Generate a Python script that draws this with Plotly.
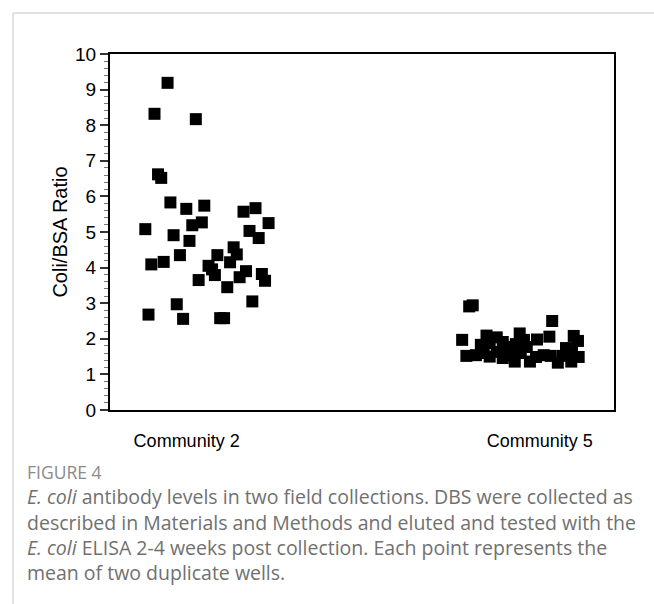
import plotly.graph_objects as go

# ---- data ----
categories = ["Community 2", "Community 5"]
cat_pos = [1, 2]

c2_values = [9.19, 8.32, 8.17, 6.62, 6.52, 5.83, 5.65, 5.74, 5.08, 5.19,
             5.27, 4.91, 4.75, 5.57, 5.67, 5.25, 5.03, 4.83, 4.57, 4.09,
             4.16, 4.35, 4.35, 4.37, 4.15, 4.05, 3.95, 3.79, 3.90, 3.73,
             3.82, 3.63, 3.65, 3.45, 3.05, 2.97, 2.68, 2.56, 2.58, 2.58]
c2_jitter = [-0.054, -0.091, 0.026, -0.081, -0.072, -0.046, -0.001, 0.050, -0.117, 0.016,
             0.043, -0.037, 0.008, 0.161, 0.195, 0.232, 0.178, 0.204, 0.133, -0.100,
             -0.065, -0.019, 0.087, 0.142, 0.123, 0.062, 0.072, 0.080, 0.168, 0.150,
             0.213, 0.222, 0.034, 0.115, 0.186, -0.028, -0.108, -0.010, 0.095, 0.106]

c5_values = [2.91, 2.94, 2.50, 1.97, 2.09, 2.04, 1.91, 2.15, 1.97, 1.98,
             2.06, 2.08, 1.94, 1.83, 1.88, 1.77, 1.85, 1.77, 1.74, 1.63,
             1.52, 1.54, 1.60, 1.50, 1.63, 1.46, 1.54, 1.36, 1.60, 1.36,
             1.49, 1.54, 1.52, 1.33, 1.52, 1.36, 1.49]
c5_jitter = [-0.200, -0.190, 0.035, -0.220, -0.151, -0.122, -0.105, -0.057, -0.045, -0.008,
             0.027, 0.096, 0.108, -0.167, -0.142, -0.091, -0.068, -0.037, 0.074, 0.091,
             -0.208, -0.181, -0.159, -0.142, -0.122, -0.105, -0.085, -0.071, -0.054, -0.028,
             -0.011, 0.011, 0.031, 0.051, 0.065, 0.089, 0.110]

y_ticks = list(range(0, 11))
y_title = "Coli/BSA Ratio"

caption_head = "FIGURE 4"
caption_lines = [
    "<i>E. coli</i> antibody levels in two field collections. DBS were collected as",
    "described in Materials and Methods and eluted and tested with the",
    "<i>E. coli</i> ELISA 2-4 weeks post collection. Each point represents the",
    "mean of two duplicate wells.",
]

# ---- figure ----
W, H = 654, 604
L, R, T, B = 110, 40, 54, 194
pw, ph = W - L - R, H - T - B


def px_x(px):
    return (px - L) / pw


def px_y(py):
    return (H - B - py) / ph


fig = go.Figure()
for pos, vals, jit in [(cat_pos[0], c2_values, c2_jitter), (cat_pos[1], c5_values, c5_jitter)]:
    fig.add_trace(go.Scatter(
        x=[pos + j for j in jit], y=vals, mode="markers",
        marker=dict(symbol="square", size=12, color="black", line=dict(width=0)),
        showlegend=False, hoverinfo="y",
    ))

axis_font = dict(family="Liberation Sans, Arial, sans-serif", size=18, color="black")
ytick_font = dict(family="Liberation Sans, Arial, sans-serif", size=19, color="black")
ytitle_font = dict(family="Liberation Sans, Arial, sans-serif", size=20, color="black")

fig.update_layout(
    width=W, height=H,
    margin=dict(l=L, r=R, t=T, b=B),
    paper_bgcolor="white", plot_bgcolor="white",
    font=axis_font,
    xaxis=dict(
        range=[0.783, 2.21], tickvals=cat_pos, ticktext=categories,
        showgrid=False, zeroline=False, showline=True, linecolor="black", linewidth=2,
        mirror=True, ticks="", ticklabelstandoff=13, tickfont=axis_font,
    ),
    yaxis=dict(
        range=[0, 10], tickvals=y_ticks, showgrid=False, zeroline=False,
        showline=True, linecolor="black", linewidth=2, mirror=True,
        ticks="outside", ticklen=8, tickwidth=1.5, tickcolor="#333",
        minor=dict(dtick=0.2, ticks="outside", ticklen=4, tickwidth=1, tickcolor="#777"),
        tickfont=ytick_font,
        title=dict(text=y_title, font=ytitle_font, standoff=2),
    ),
)

# card border lines (top and left)
fig.add_shape(type="line", xref="paper", yref="paper",
              x0=px_x(13), x1=px_x(W + 5), y0=px_y(13), y1=px_y(13),
              line=dict(color="#d9d9d9", width=1.5))
fig.add_shape(type="line", xref="paper", yref="paper",
              x0=px_x(13), x1=px_x(13), y0=px_y(13), y1=px_y(H + 5),
              line=dict(color="#d9d9d9", width=1.5))

cap_font = dict(family="Open Sans, Lato, sans-serif", size=19.5, color="#707070")
fig.add_annotation(text=caption_head, xref="paper", yref="paper",
                   x=px_x(25), y=px_y(472), xanchor="left", yanchor="middle",
                   showarrow=False,
                   font=dict(family="Open Sans, Lato, sans-serif", size=17.5, color="#8a8a8a"))
for i, line in enumerate(caption_lines):
    fig.add_annotation(text=line, xref="paper", yref="paper",
                       x=px_x(25), y=px_y(497 + 25 * i), xanchor="left", yanchor="middle",
                       showarrow=False, font=cap_font)

fig.write_html("out.html", post_script="document.body.style.margin='0';",
               config={"displayModeBar": False})
